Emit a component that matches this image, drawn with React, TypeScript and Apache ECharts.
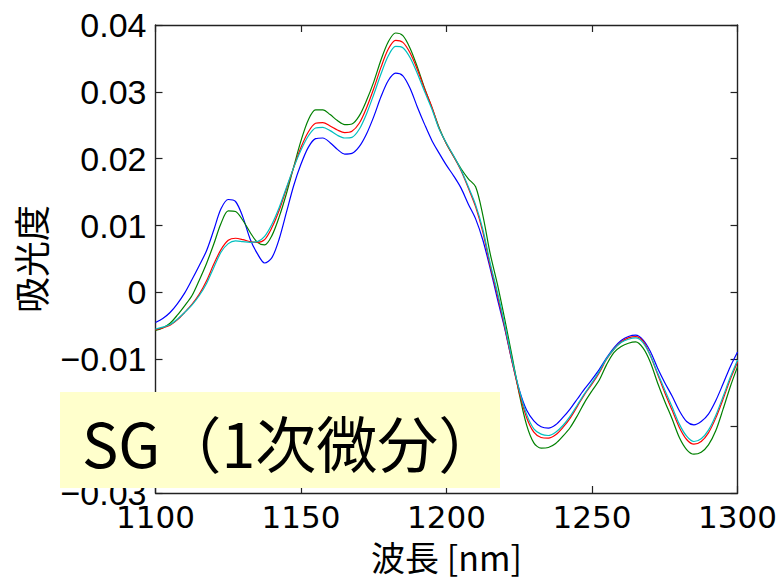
import React, { useEffect, useRef } from "react";
import * as echarts from "echarts";

const wavelengths = [
  1100, 1102.5, 1105, 1107.5, 1110, 1112.5, 1115, 1117.5, 1120, 1122.5,
  1125, 1127.5, 1130, 1132.5, 1135, 1137.5, 1140, 1142.5, 1145, 1147.5,
  1150, 1152.5, 1155, 1157.5, 1160, 1162.5, 1165, 1167.5, 1170, 1172.5,
  1175, 1177.5, 1180, 1182.5, 1185, 1187.5, 1190, 1192.5, 1195, 1197.5,
  1200, 1202.5, 1205, 1207.5, 1210, 1212.5, 1215, 1217.5, 1220, 1222.5,
  1225, 1227.5, 1230, 1232.5, 1235, 1237.5, 1240, 1242.5, 1245, 1247.5,
  1250, 1252.5, 1255, 1257.5, 1260, 1262.5, 1265, 1267.5, 1270, 1272.5,
  1275, 1277.5, 1280, 1282.5, 1285, 1287.5, 1290, 1292.5, 1295, 1297.5,
  1300,
];

const blueSeries = [
  -0.0045, -0.0039, -0.0030, -0.0017, -0.0001, 0.0019, 0.0040, 0.0062, 0.0093, 0.0125,
  0.0139, 0.0136, 0.0113, 0.0080, 0.0058, 0.0044, 0.0052, 0.0080, 0.0120, 0.0160,
  0.0192, 0.0217, 0.0230, 0.0231, 0.0224, 0.0214, 0.0207, 0.0208, 0.0218, 0.0237,
  0.0263, 0.0293, 0.0317, 0.0328, 0.0324, 0.0305, 0.0277, 0.0251, 0.0227, 0.0208,
  0.0190, 0.0174, 0.0156, 0.0132, 0.0110, 0.0078, 0.0036, -0.0010, -0.0054, -0.0103,
  -0.0146, -0.0176, -0.0192, -0.0201, -0.0203, -0.0198, -0.0187, -0.0174, -0.0159, -0.0144,
  -0.0130, -0.0115, -0.0098, -0.0083, -0.0072, -0.0066, -0.0064, -0.0071, -0.0088, -0.0113,
  -0.0135, -0.0155, -0.0177, -0.0193, -0.0198, -0.0193, -0.0182, -0.0162, -0.0137, -0.0111,
  -0.0089,
];

const greenSeries = [
  -0.0057, -0.0053, -0.0046, -0.0034, -0.0020, -0.0005, 0.0018, 0.0043, 0.0072, 0.0103,
  0.0122, 0.0121, 0.0108, 0.0090, 0.0075, 0.0071, 0.0085, 0.0113, 0.0148, 0.0188,
  0.0227, 0.0258, 0.0273, 0.0273, 0.0266, 0.0257, 0.0251, 0.0252, 0.0264, 0.0287,
  0.0315, 0.0348, 0.0375, 0.0388, 0.0384, 0.0365, 0.0337, 0.0305, 0.0276, 0.0246,
  0.0222, 0.0203, 0.0185, 0.0170, 0.0158, 0.0115, 0.0058, 0.0012, -0.0040, -0.0095,
  -0.0152, -0.0198, -0.0225, -0.0233, -0.0232, -0.0226, -0.0215, -0.0202, -0.0184, -0.0164,
  -0.0147, -0.0131, -0.0108, -0.0090, -0.0081, -0.0076, -0.0074, -0.0083, -0.0104, -0.0135,
  -0.0163, -0.0189, -0.0217, -0.0235, -0.0242, -0.0239, -0.0228, -0.0207, -0.0175, -0.0141,
  -0.0111,
];

const redSeries = [
  -0.0056, -0.0053, -0.0049, -0.0041, -0.0030, -0.0018, -0.0003, 0.0017, 0.0042, 0.0064,
  0.0078, 0.0081, 0.0079, 0.0076, 0.0075, 0.0079, 0.0097, 0.0123, 0.0155, 0.0187,
  0.0217, 0.0240, 0.0253, 0.0254, 0.0249, 0.0243, 0.0239, 0.0241, 0.0253, 0.0276,
  0.0305, 0.0337, 0.0364, 0.0377, 0.0374, 0.0358, 0.0333, 0.0304, 0.0277, 0.0245,
  0.0222, 0.0203, 0.0182, 0.0156, 0.0128, 0.0090, 0.0040, -0.0004, -0.0052, -0.0103,
  -0.0150, -0.0187, -0.0209, -0.0217, -0.0218, -0.0213, -0.0202, -0.0188, -0.0170, -0.0152,
  -0.0137, -0.0120, -0.0100, -0.0085, -0.0074, -0.0068, -0.0066, -0.0073, -0.0094, -0.0122,
  -0.0150, -0.0176, -0.0202, -0.0220, -0.0227, -0.0223, -0.0210, -0.0188, -0.0160, -0.0130,
  -0.0104,
];

const cyanSeries = [
  -0.0055, -0.0052, -0.0048, -0.0040, -0.0030, -0.0019, -0.0005, 0.0013, 0.0037, 0.0060,
  0.0073, 0.0077, 0.0076, 0.0075, 0.0076, 0.0084, 0.0102, 0.0127, 0.0157, 0.0187,
  0.0213, 0.0234, 0.0246, 0.0247, 0.0242, 0.0235, 0.0231, 0.0232, 0.0244, 0.0267,
  0.0296, 0.0327, 0.0354, 0.0368, 0.0366, 0.0351, 0.0327, 0.0300, 0.0274, 0.0244,
  0.0223, 0.0204, 0.0183, 0.0158, 0.0131, 0.0094, 0.0044, 0.0000, -0.0048, -0.0100,
  -0.0146, -0.0182, -0.0204, -0.0212, -0.0214, -0.0209, -0.0199, -0.0185, -0.0168, -0.0151,
  -0.0135, -0.0118, -0.0099, -0.0085, -0.0075, -0.0070, -0.0068, -0.0075, -0.0094, -0.0120,
  -0.0146, -0.0171, -0.0197, -0.0215, -0.0223, -0.0219, -0.0206, -0.0184, -0.0156, -0.0127,
  -0.0101,
];

const xTicks = { min: 1100, max: 1300, interval: 50 };
const yTicks = { min: -0.03, max: 0.04, interval: 0.01 };
const xAxisName = "波長 [nm]";
const yAxisName = "吸光度";
const titleText = "SG（1次微分）";

const seriesDefs = [
  { name: "s1", color: "#0000FF", values: blueSeries },
  { name: "s2", color: "#008000", values: greenSeries },
  { name: "s3", color: "#FF0000", values: redSeries },
  { name: "s4", color: "#00BFBF", values: cyanSeries },
];

const axisColor = "#222222";
const tickFont = "'Liberation Sans', Arial, sans-serif";
const xTickFont = "'DejaVu Sans', sans-serif";
const cjkFont = "'Noto Sans CJK JP', 'Noto Sans', sans-serif";

export default function App() {
  const ref = useRef<HTMLDivElement>(null);

  useEffect(() => {
    if (!ref.current) return;
    const chart = echarts.init(ref.current, null, { renderer: "svg" });
    const axisLine = { show: true, onZero: false, lineStyle: { color: axisColor, width: 1.4 } };
    const axisTick = { show: true, inside: true, length: 7, lineStyle: { color: axisColor, width: 1.2 } };
    chart.setOption({
      animation: false,
      backgroundColor: "#ffffff",
      grid: { left: 155.5, right: 42, top: 25, bottom: 88, containLabel: false },
      xAxis: [
        {
          type: "value",
          position: "bottom",
          min: xTicks.min,
          max: xTicks.max,
          interval: xTicks.interval,
          axisLine,
          axisTick,
          splitLine: { show: false },
          axisLabel: {
            margin: 8,
            color: "#000",
            fontSize: 31,
            fontFamily: xTickFont,
            formatter: (v: number) => String(v),
          },
          name: xAxisName,
          nameLocation: "middle",
          nameGap: 46,
          nameTextStyle: { color: "#000", fontSize: 34, fontFamily: cjkFont },
        },
        {
          type: "value",
          position: "top",
          min: xTicks.min,
          max: xTicks.max,
          interval: xTicks.interval,
          axisLine,
          axisTick,
          splitLine: { show: false },
          axisLabel: { show: false },
        },
      ],
      yAxis: [
        {
          type: "value",
          position: "left",
          min: yTicks.min,
          max: yTicks.max,
          interval: yTicks.interval,
          axisLine,
          axisTick,
          splitLine: { show: false },
          axisLabel: {
            margin: 9,
            color: "#000",
            fontSize: 34,
            fontFamily: tickFont,
            formatter: (v: number) => {
              if (Math.abs(v) < 1e-9) return "0";
              return (v < 0 ? "\u2212" : "") + Math.abs(v).toFixed(2);
            },
          },
          name: yAxisName,
          nameLocation: "middle",
          nameGap: 108,
          nameTextStyle: { color: "#000", fontSize: 36, fontFamily: cjkFont },
        },
        {
          type: "value",
          position: "right",
          min: yTicks.min,
          max: yTicks.max,
          interval: yTicks.interval,
          axisLine,
          axisTick,
          splitLine: { show: false },
          axisLabel: { show: false },
        },
      ],
      series: seriesDefs.map((s) => ({
        name: s.name,
        type: "line",
        xAxisIndex: 0,
        yAxisIndex: 0,
        showSymbol: false,
        smooth: 0.3,
        lineStyle: { color: s.color, width: 1.2 },
        itemStyle: { color: s.color },
        data: wavelengths.map((w, i) => [w, s.values[i]]),
      })),
      graphic: [
        {
          type: "rect",
          z: 100,
          shape: { x: 60, y: 392, width: 440, height: 96 },
          style: { fill: "#FFFFCC" },
        },
        {
          type: "text",
          z: 101,
          x: 82,
          y: 441,
          style: {
            text: titleText,
            fill: "#000",
            fontSize: 61,
            fontFamily: cjkFont,
            verticalAlign: "middle",
            align: "left",
          },
        },
      ],
    });
    return () => chart.dispose();
  }, []);

  return (
    <div
      ref={ref}
      style={{ position: "fixed", left: 0, top: 0, width: 780, height: 581 }}
    />
  );
}
